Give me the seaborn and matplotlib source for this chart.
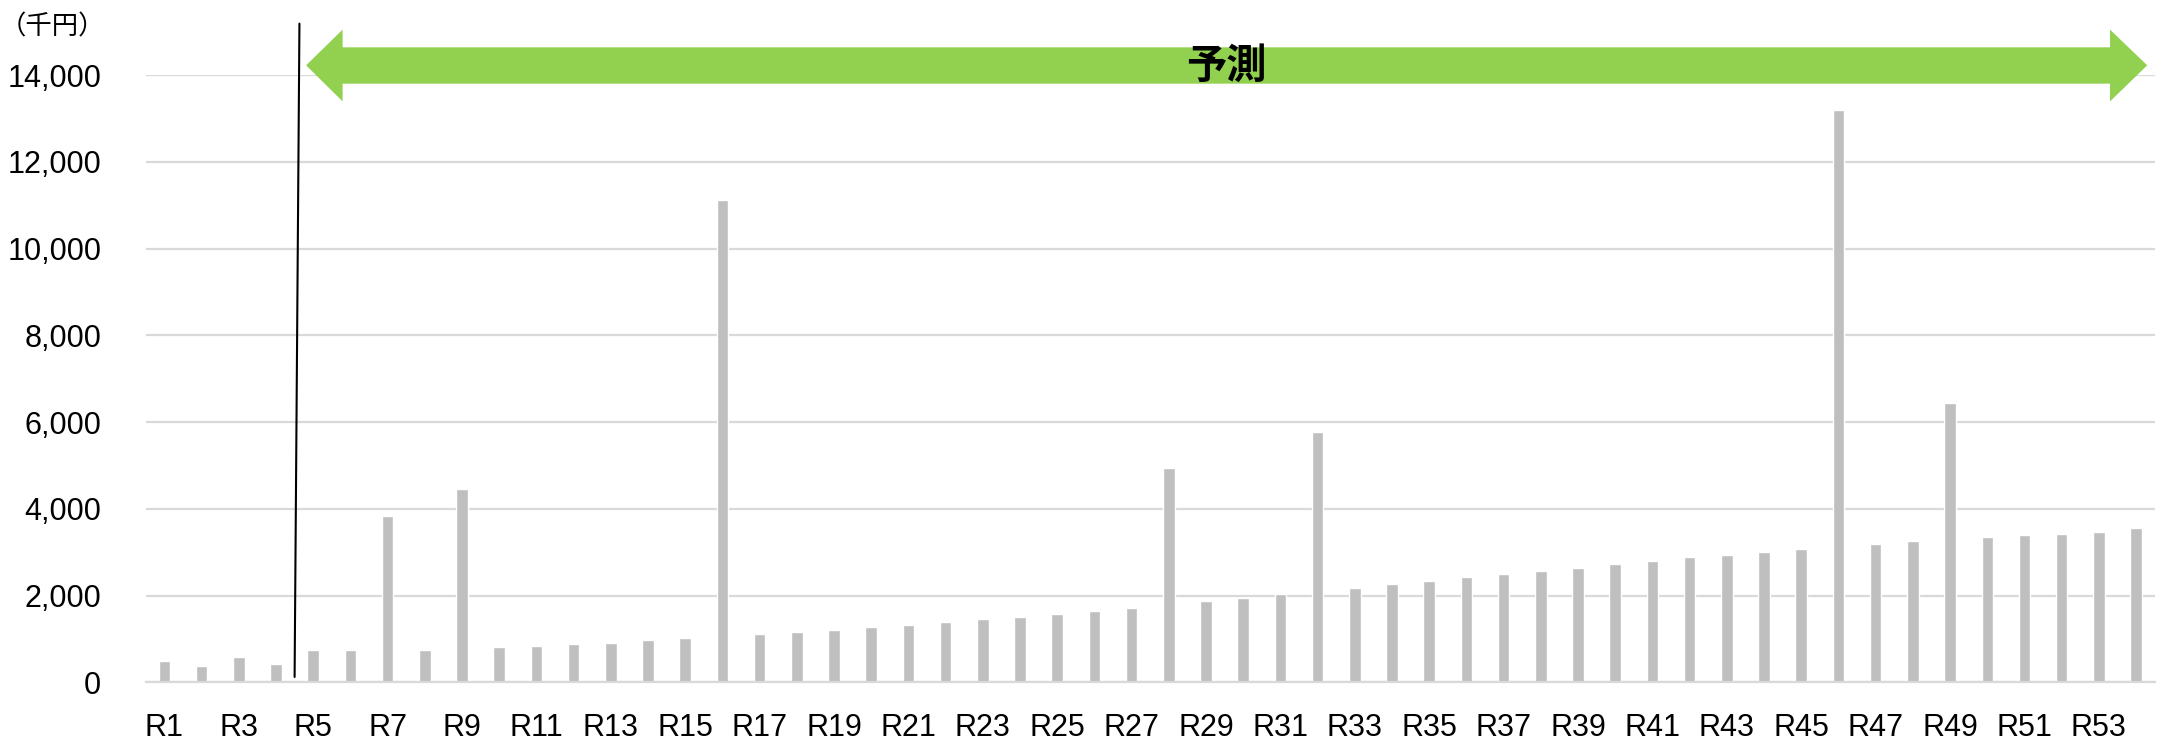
import numpy as np
import pandas as pd
import matplotlib
matplotlib.use("Agg")
import matplotlib.pyplot as plt
from matplotlib.patches import Polygon
from matplotlib.ticker import StrMethodFormatter
import seaborn as sns

# --------------------------
# Datos (千円)
# --------------------------
years = [f"R{i}" for i in range(1, 55)]
amounts = [
    490, 383, 590, 414, 736, 736, 3836, 743, 4452, 812,
    843, 874, 912, 966, 1011, 11110, 1103, 1157, 1203, 1272,
    1318, 1395, 1448, 1510, 1586, 1647, 1716, 4943, 1877, 1946,
    2038, 5781, 2176, 2268, 2337, 2429, 2506, 2575, 2644, 2720,
    2805, 2881, 2943, 3011, 3075, 13202, 3190, 3252, 6443, 3345,
    3398, 3421, 3460, 3567,
]
y_ticks = [0, 2000, 4000, 6000, 8000, 10000, 12000, 14000]
unit_label = "（千円）"
forecast_label = "予測"

df = pd.DataFrame({"year": years, "amount": amounts})

# --------------------------
# Estilo
# --------------------------
sns.set_style("white")
plt.rcParams["font.family"] = ["Liberation Sans", "Noto Sans CJK JP"]

fig = plt.figure(figsize=(21.76, 7.43), dpi=100)
ax = fig.add_axes([0.067, 0.0817, 0.9232, 0.8173])

sns.barplot(data=df, x="year", y="amount", color="#bfbfbf", saturation=1,
            width=0.31, ax=ax)

ax.set_xlim(-0.5, len(years) - 0.5)
ax.set_ylim(0, 14000)
ax.set_yticks(y_ticks)
ax.yaxis.set_major_formatter(StrMethodFormatter("{x:,.0f}"))
ax.set_xticks(range(0, len(years), 2))
ax.set_xticklabels(years[::2])
ax.set_xlabel("")
ax.set_ylabel("")

ax.yaxis.grid(True, color="#d9d9d9", linewidth=1.6)
ax.set_axisbelow(True)
for side in ["top", "right", "left"]:
    ax.spines[side].set_visible(False)
ax.spines["bottom"].set_color("#d9d9d9")
ax.spines["bottom"].set_linewidth(1.6)
ax.tick_params(axis="both", length=0, labelsize=22, labelcolor="black")
ax.tick_params(axis="y", pad=32)
ax.tick_params(axis="x", pad=22)

# --------------------------
# Anotaciones: línea de corte y flecha de 予測
# --------------------------
ax.plot([3.50, 3.63], [122, 15186], color="black", linewidth=1.5,
        clip_on=False, zorder=5)

arrow = Polygon(
    [(3.81, 14224), (4.79, 15047), (4.79, 14639), (52.30, 14639),
     (52.30, 15047), (53.30, 14224), (52.30, 13393), (52.30, 13801),
     (4.79, 13801), (4.79, 13393)],
    closed=True, facecolor="#92d050", edgecolor="none", clip_on=False, zorder=4,
)
ax.add_patch(arrow)
ax.text(28.55, 14194, forecast_label, ha="center", va="center", fontsize=29,
        fontweight="bold", color="black", family=["Noto Sans CJK JP"],
        clip_on=False, zorder=6)

fig.text(0.0, 1 - 27 / 743, unit_label, ha="left", va="center", fontsize=19,
         color="black", family=["Noto Sans CJK JP"])

fig.savefig("out.png", dpi=100)
plt.close(fig)
